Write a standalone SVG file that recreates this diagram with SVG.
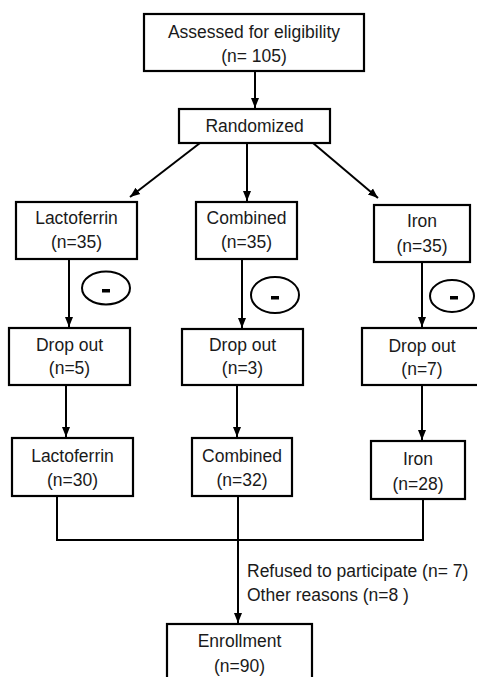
<svg xmlns="http://www.w3.org/2000/svg" width="477" height="677" viewBox="0 0 477 677">
<style>
.box{fill:#fff;stroke:#000;stroke-width:2.2}
.t{font-family:"Liberation Sans",Arial,sans-serif;font-size:17.5px;fill:#1a1a1a;text-anchor:middle}
.n{font-family:"Liberation Sans",Arial,sans-serif;font-size:17.5px;fill:#1a1a1a}
.c{fill:none;stroke:#000;stroke-width:2}
.minus{fill:#000}
</style>
<defs>
<marker id="ah" markerUnits="userSpaceOnUse" markerWidth="10" markerHeight="10" viewBox="0 0 10 10" refX="10" refY="5" orient="auto">
<path d="M0,1 L10,5 L0,9 z" fill="#000"/>
</marker>
</defs>
<g id="connectors">
<line class="c" x1="255" y1="72" x2="255" y2="108" marker-end="url(#ah)"/>
<line class="c" x1="200" y1="143" x2="130" y2="197" marker-end="url(#ah)"/>
<line class="c" x1="247" y1="143" x2="247" y2="201" marker-end="url(#ah)"/>
<line class="c" x1="313" y1="143" x2="378" y2="198" marker-end="url(#ah)"/>
<line class="c" x1="69" y1="260" x2="69" y2="327" marker-end="url(#ah)"/>
<line class="c" x1="242" y1="260" x2="242" y2="328" marker-end="url(#ah)"/>
<line class="c" x1="422" y1="263" x2="422" y2="327" marker-end="url(#ah)"/>
<line class="c" x1="66" y1="386" x2="66" y2="437" marker-end="url(#ah)"/>
<line class="c" x1="237" y1="386" x2="237" y2="437" marker-end="url(#ah)"/>
<line class="c" x1="422" y1="386" x2="422" y2="440" marker-end="url(#ah)"/>
<polyline class="c" points="57,497 57,540 423,540 423,500"/>
<line class="c" x1="238" y1="497" x2="238" y2="623" marker-end="url(#ah)"/>
<text class="n" x="247" y="577">Refused to participate (n= 7)</text>
<text class="n" x="247" y="601">Other reasons (n=8 )</text>
</g>
<g id="minus-lactoferrin">
<ellipse class="c" cx="106" cy="288" rx="24" ry="16.5"/>
<rect class="minus" x="102" y="289" width="8" height="3.5"/>
</g>
<g id="minus-combined">
<ellipse class="c" cx="275" cy="295" rx="24" ry="18"/>
<rect class="minus" x="271" y="296" width="8" height="3.5"/>
</g>
<g id="minus-iron">
<ellipse class="c" cx="452" cy="296" rx="22" ry="16"/>
<rect class="minus" x="450" y="296" width="8" height="3.5"/>
</g>
<g id="assessed">
<rect class="box" x="144" y="14" width="220" height="57"/>
<text class="t" x="254" y="37.5">Assessed for eligibility</text>
<text class="t" x="254" y="61.5">(n= 105)</text>
</g>
<g id="randomized">
<rect class="box" x="179" y="109" width="151" height="34"/>
<text class="t" x="254.5" y="132">Randomized</text>
</g>
<g id="lactoferrin">
<rect class="box" x="16" y="202" width="121" height="57"/>
<text class="t" x="76.5" y="224">Lactoferrin</text>
<text class="t" x="76.5" y="248">(n=35)</text>
</g>
<g id="combined">
<rect class="box" x="196" y="202" width="101" height="57"/>
<text class="t" x="246.5" y="224">Combined</text>
<text class="t" x="246.5" y="248">(n=35)</text>
</g>
<g id="iron">
<rect class="box" x="374" y="205" width="96" height="57"/>
<text class="t" x="422" y="227">Iron</text>
<text class="t" x="422" y="252">(n=35)</text>
</g>
<g id="dropout-lactoferrin">
<rect class="box" x="9" y="328" width="121" height="57"/>
<text class="t" x="69.5" y="351">Drop out</text>
<text class="t" x="69.5" y="374">(n=5)</text>
</g>
<g id="dropout-combined">
<rect class="box" x="182" y="329" width="121" height="56"/>
<text class="t" x="242.5" y="351">Drop out</text>
<text class="t" x="242.5" y="374">(n=3)</text>
</g>
<g id="dropout-iron">
<rect class="box" x="362" y="328" width="120" height="57"/>
<text class="t" x="422" y="352">Drop out</text>
<text class="t" x="422" y="375">(n=7)</text>
</g>
<g id="lactoferrin-final">
<rect class="box" x="12" y="438" width="121" height="58"/>
<text class="t" x="72.5" y="462">Lactoferrin</text>
<text class="t" x="72.5" y="486">(n=30)</text>
</g>
<g id="combined-final">
<rect class="box" x="192" y="438" width="100" height="58"/>
<text class="t" x="242" y="462">Combined</text>
<text class="t" x="242" y="486">(n=32)</text>
</g>
<g id="iron-final">
<rect class="box" x="371" y="441" width="94" height="58"/>
<text class="t" x="418" y="465">Iron</text>
<text class="t" x="418" y="490">(n=28)</text>
</g>
<g id="enrollment">
<rect class="box" x="167" y="624" width="145" height="60"/>
<text class="t" x="239.5" y="647">Enrollment</text>
<text class="t" x="239.5" y="672">(n=90)</text>
</g>
</svg>
